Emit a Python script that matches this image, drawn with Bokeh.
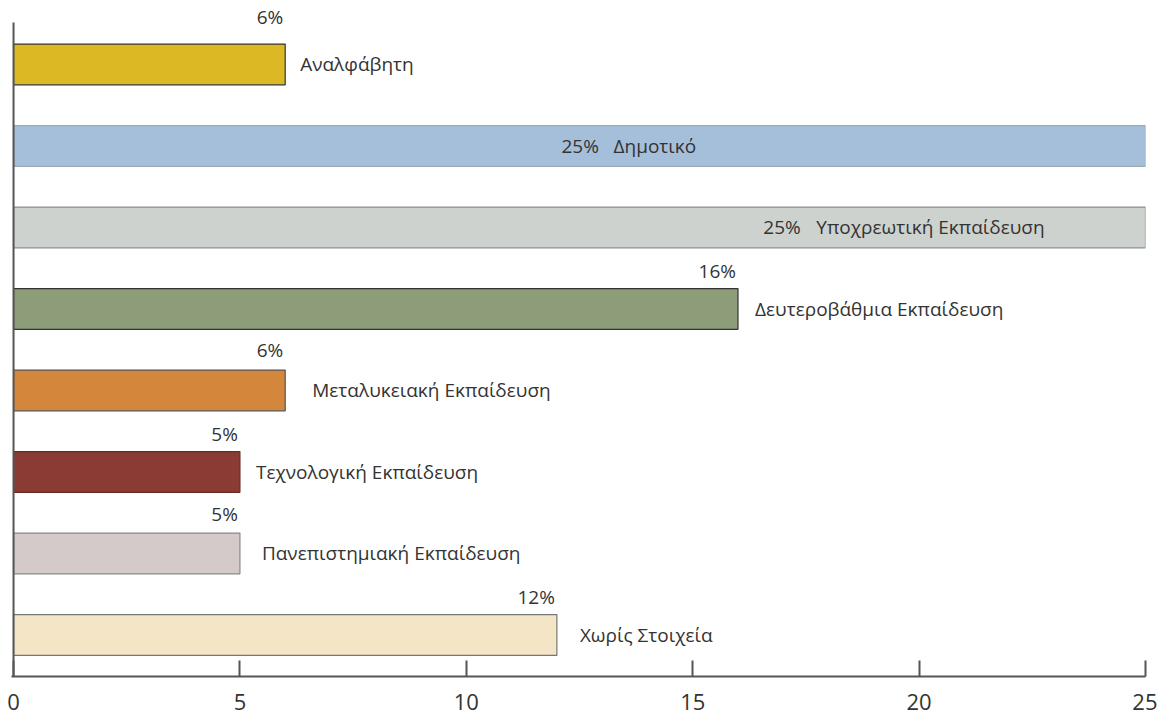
from bokeh.plotting import figure
from bokeh.models import Range1d, FixedTicker, ColumnDataSource
from bokeh.embed import file_html
from bokeh.resources import INLINE
from bokeh.core.properties import value

# ---- data ----
categories = ["Αναλφάβητη", "Δημοτικό", "Υποχρεωτική Εκπαίδευση",
              "Δευτεροβάθμια Εκπαίδευση", "Μεταλυκειακή Εκπαίδευση",
              "Τεχνολογική Εκπαίδευση", "Πανεπιστημιακή Εκπαίδευση",
              "Χωρίς Στοιχεία"]
values = [6, 25, 25, 16, 6, 5, 5, 12]
pct_labels = ["6%", "25%", "25%", "16%", "6%", "5%", "5%", "12%"]
x_ticks = [0, 5, 10, 15, 20, 25]

# ---- styles ----
colors = ["#DDB825", "#A5BFDB", "#CDD2CE", "#8D9C79", "#D4863A",
          "#8A3B33", "#D5CACA", "#F4E5C6"]
outline = ["#333333", "#9aa8b8", "#8a8f8b", "#333333", "#555555",
           "#6a2a24", "#888888", "#777777"]
name_offsets = [15, 0, 0, 17, 27, 16, 22, 23]
pct_y_offsets = [-9, 0, 0, 0, -2, 0, -1, 0]
FONT = "Open Sans"
FS = "19px"
AXIS_COLOR = "#555555"

pos = list(range(len(categories)))
full = [v >= 25 for v in values]

Y_BOTTOM, Y_AXIS_TOP, Y_TOP = 7.51, -0.515, -0.736
p = figure(width=1157, height=721, output_backend="svg", toolbar_location=None,
           x_range=Range1d(-0.045, 25), y_range=Range1d(Y_BOTTOM, Y_TOP),
           min_border_left=11, min_border_right=12, min_border_top=4,
           min_border_bottom=45)
p.outline_line_color = None
p.grid.grid_line_color = None
p.background_fill_color = "white"
p.yaxis.visible = False

src = ColumnDataSource(dict(y=pos, right=values, fill=colors, line=outline))
p.hbar(y="y", left=0, right="right", height=0.5, source=src,
       fill_color="fill", line_color="line", line_width=1.2)

# vertical axis line (value axis origin)
p.segment(x0=[0], y0=[Y_AXIS_TOP], x1=[0], y1=[Y_BOTTOM],
          line_color=AXIS_COLOR, line_width=2)

# labels for ordinary bars: percent above bar end, name to the right
ox, oy, ot, oyo = [], [], [], []
nx, ny, nt, no = [], [], [], []
for i, (v, lab, name) in enumerate(zip(values, pct_labels, categories)):
    if full[i]:
        continue
    ox.append(v); oy.append(i - 0.47); ot.append(lab); oyo.append(pct_y_offsets[i])
    nx.append(v); ny.append(i); nt.append(name); no.append(name_offsets[i])

p.text(x=ox, y=oy, text=ot, y_offset=oyo, text_align="right",
       text_baseline="middle", text_font=value(FONT), text_font_size=FS,
       text_color="#333333", x_offset=-2)
p.text(x=nx, y=ny, text=nt, x_offset=no, text_align="left",
       text_baseline="middle", text_font=value(FONT), text_font_size=FS,
       text_color="#333333")

# labels inside full-length bars
inside_pct_x = [12.1, 16.56]
inside_name_x = [13.25, 17.73]
fi = [i for i in pos if full[i]]
p.text(x=inside_pct_x, y=fi, text=[pct_labels[i] for i in fi],
       text_align="left", text_baseline="middle", text_font=value(FONT),
       text_font_size=FS, text_color="#333333")
p.text(x=inside_name_x, y=fi, text=[categories[i] for i in fi],
       text_align="left", text_baseline="middle", text_font=value(FONT),
       text_font_size=FS, text_color="#333333")

# x axis
xa = p.xaxis[0]
xa.ticker = FixedTicker(ticks=x_ticks)
xa.axis_line_color = AXIS_COLOR
xa.axis_line_width = 2
xa.major_tick_in = 16
xa.major_tick_out = 0
xa.major_tick_line_color = AXIS_COLOR
xa.major_tick_line_width = 2
xa.minor_tick_line_color = None
xa.major_label_standoff = 17
xa.major_label_text_font = FONT
xa.major_label_text_font_size = "22px"
xa.major_label_text_color = "#333333"

open("out.html", "w").write(file_html(p, INLINE))
